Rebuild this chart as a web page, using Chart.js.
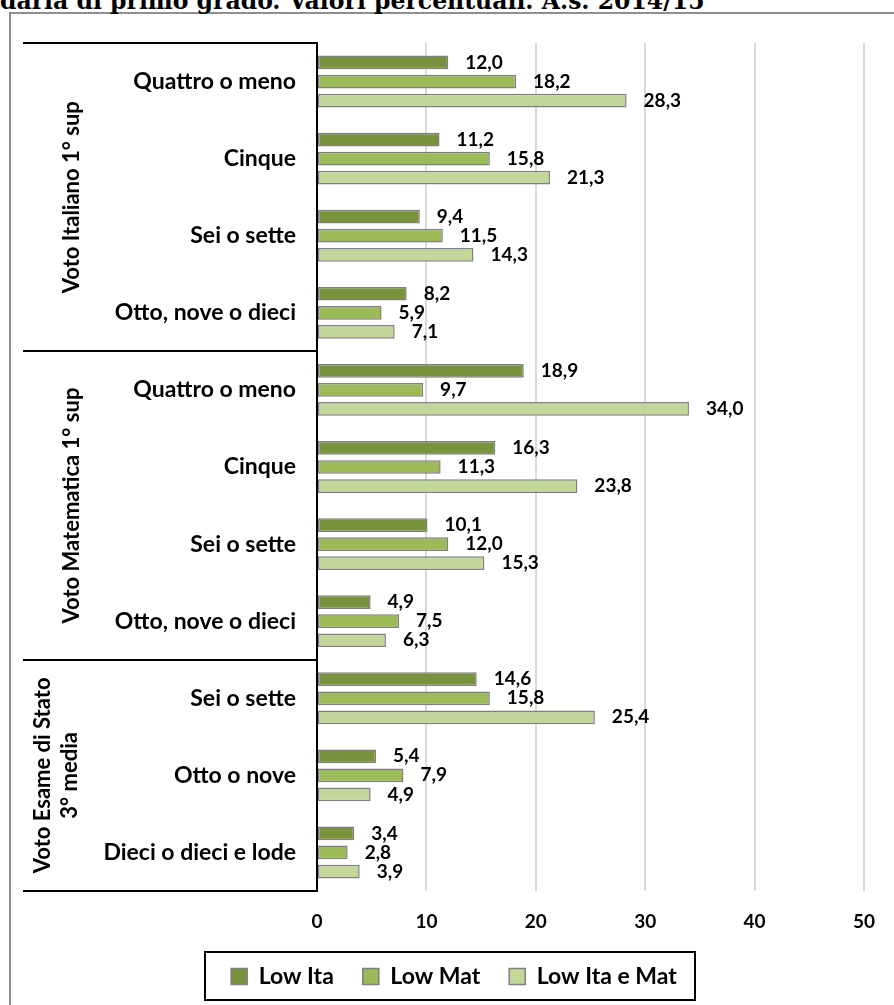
<!DOCTYPE html>
<html>
<head>
<meta charset="utf-8">
<script src="https://cdn.jsdelivr.net/npm/chart.js@4.4.1/dist/chart.umd.min.js"></script>
<style>
  body { margin: 0; background: #fff; overflow: hidden; }
  #frame { position: absolute; left: 9px; top: 12px; width: 1000px; height: 1100px; border-left: 2px solid #8f8f8f; border-top: 2px solid #8f8f8f; }
  #title { position: absolute; left: 0; top: -11px; font: bold 24px/24px "DejaVu Serif Condensed", "DejaVu Serif", serif; white-space: nowrap; color: #000; transform-origin: 0 0; }
  #wrap { position: absolute; left: 0; top: 0; }
</style>
</head>
<body>
<div id="frame"></div>
<div id="title">daria di primo grado. Valori percentuali. A.s. 2014/15</div>
<div id="wrap"><canvas id="gradeChart" width="894" height="1005"></canvas></div>
<script>
// categories (Excel multi-level axis: group + grade)
const categories = [
  'Quattro o meno', 'Cinque', 'Sei o sette', 'Otto, nove o dieci',
  'Quattro o meno', 'Cinque', 'Sei o sette', 'Otto, nove o dieci',
  'Sei o sette', 'Otto o nove', 'Dieci o dieci e lode'
];
const groups = [
  { lines: ['Voto Italiano 1° sup'], from: 0, to: 4 },
  { lines: ['Voto Matematica 1° sup'], from: 4, to: 8 },
  { lines: ['Voto Esame di Stato', '3° media'], from: 8, to: 11 }
];

// series values (%)
const lowIta    = [12.0, 11.2, 9.4, 8.2, 18.9, 16.3, 10.1, 4.9, 14.6, 5.4, 3.4];
const lowMat    = [18.2, 15.8, 11.5, 5.9, 9.7, 11.3, 12.0, 7.5, 15.8, 7.9, 2.8];
const lowItaMat = [28.3, 21.3, 14.3, 7.1, 34.0, 23.8, 15.3, 6.3, 25.4, 4.9, 3.9];

const xTicks = [0, 10, 20, 30, 40, 50];

const FONT = 'Lato';

// title: fit to the width it has in the source
const title = document.getElementById('title');
title.style.transform = 'scaleX(' + (705 / title.offsetWidth) + ')';

const makeSet = (label, data, color) => ({
  label,
  data,
  backgroundColor: color,
  borderColor: '#7f7f7f',
  borderWidth: 1.5,
  borderSkipped: false,
  categoryPercentage: 0.742,
  barPercentage: 0.72
});

// value labels right of every bar
const valueLabels = {
  id: 'valueLabels',
  afterDatasetsDraw(chart) {
    const ctx = chart.ctx;
    ctx.save();
    ctx.font = 'bold 19px ' + FONT;
    ctx.fillStyle = '#000';
    ctx.textAlign = 'left';
    ctx.textBaseline = 'middle';
    chart.data.datasets.forEach((ds, i) => {
      chart.getDatasetMeta(i).data.forEach((bar, j) => {
        ctx.fillText(ds.data[j].toFixed(1).replace('.', ','), bar.x + 17, bar.y);
      });
    });
    ctx.restore();
  }
};

// group boxes and rotated group titles on the left
const groupAxis = {
  id: 'groupAxis',
  afterDraw(chart) {
    const ctx = chart.ctx;
    const area = chart.chartArea;
    const step = (area.bottom - area.top) / categories.length;
    ctx.save();
    ctx.strokeStyle = '#000';
    ctx.lineWidth = 2;
    [0, 4, 8, 11].forEach(i => {
      const y = Math.round(area.top + i * step);
      ctx.beginPath();
      ctx.moveTo(23, y);
      ctx.lineTo(area.left, y);
      ctx.stroke();
    });
    ctx.font = 'bold 22px ' + FONT;
    ctx.fillStyle = '#000';
    ctx.textAlign = 'center';
    ctx.textBaseline = 'middle';
    groups.forEach(g => {
      const yc = area.top + (g.from + g.to) / 2 * step;
      const xs = g.lines.length === 1 ? [72] : [43, 70];
      g.lines.forEach((t, k) => {
        ctx.save();
        ctx.translate(xs[k], yc);
        ctx.rotate(-Math.PI / 2);
        ctx.fillText(t, 0, 0);
        ctx.restore();
      });
    });
    ctx.restore();
  }
};

// frame round the legend
const legendFrame = {
  id: 'legendFrame',
  afterDraw(chart) {
    const boxes = chart.legend.legendHitBoxes;
    if (!boxes || !boxes.length) return;
    const left = Math.min(...boxes.map(b => b.left));
    const right = Math.max(...boxes.map(b => b.left + b.width));
    const yc = boxes[0].top + boxes[0].height / 2;
    const ctx = chart.ctx;
    ctx.save();
    ctx.strokeStyle = '#000';
    ctx.lineWidth = 2;
    ctx.strokeRect(Math.round(left - 26), Math.round(yc - 25), Math.round(right - left + 44), 48);
    ctx.restore();
  }
};

const ctx = document.getElementById('gradeChart').getContext('2d');
const gradeChart = new Chart(ctx, {
  type: 'bar',
  data: {
    labels: categories,
    datasets: [
      makeSet('Low Ita', lowIta, '#77933c'),
      makeSet('Low Mat', lowMat, '#9bbb59'),
      makeSet('Low Ita e Mat', lowItaMat, '#c4d79b')
    ]
  },
  plugins: [valueLabels, groupAxis, legendFrame],
  options: {
    indexAxis: 'y',
    responsive: false,
    animation: false,
    devicePixelRatio: 1,
    layout: { padding: { top: 43, left: 41, right: 27, bottom: 7 } },
    scales: {
      x: {
        min: 0,
        max: 50,
        afterBuildTicks: scale => { scale.ticks = xTicks.map(v => ({ value: v })); },
        afterFit: scale => { scale.height = 45; },
        grid: { color: '#d9d9d9', lineWidth: 2, drawTicks: false },
        border: { display: false },
        ticks: { padding: 19, color: '#000', font: { family: FONT, weight: 'bold', size: 19 } }
      },
      y: {
        afterFit: scale => { scale.width = 276; },
        grid: { display: false, drawTicks: false },
        border: { display: true, color: '#000', width: 2 },
        ticks: { padding: 21, color: '#000', font: { family: FONT, weight: 'bold', size: 23 } }
      }
    },
    plugins: {
      legend: {
        position: 'bottom',
        labels: {
          boxWidth: 16,
          boxHeight: 16,
          padding: 29,
          color: '#000',
          font: { family: FONT, weight: 'bold', size: 23 }
        }
      },
      tooltip: { enabled: false }
    }
  }
});
</script>
</body>
</html>
